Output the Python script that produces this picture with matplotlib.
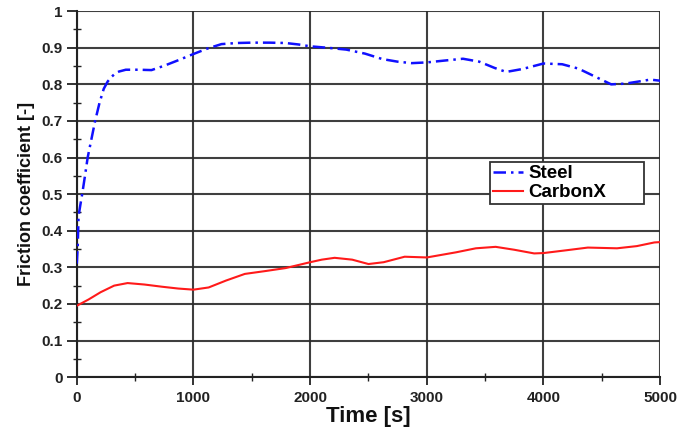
import matplotlib
matplotlib.use("Agg")
import matplotlib.pyplot as plt
from matplotlib.ticker import MultipleLocator

plt.rcParams['font.family'] = ['Liberation Sans', 'DejaVu Sans']

steel_t = [0, 8, 15, 30, 46, 70, 93, 125, 157, 195, 231, 265, 296, 330, 361, 420, 530, 640, 750,
           870, 1000, 1120, 1240, 1370, 1500, 1650, 1790, 1900, 2000, 2150, 2310, 2470, 2620,
           2750, 2870, 3000, 3150, 3310, 3450, 3580, 3680, 3820, 4000, 4160, 4300, 4450, 4580,
           4700, 4820, 4915, 5000]
steel_mu = [0.31, 0.36, 0.44, 0.47, 0.50, 0.55, 0.60, 0.65, 0.70, 0.75, 0.788, 0.808, 0.82, 0.83,
            0.835, 0.840, 0.840, 0.839, 0.851, 0.866, 0.883, 0.898, 0.910, 0.913, 0.914, 0.914,
            0.913, 0.909, 0.904, 0.900, 0.895, 0.884, 0.869, 0.862, 0.858, 0.860, 0.865, 0.870,
            0.862, 0.845, 0.834, 0.842, 0.857, 0.855, 0.843, 0.820, 0.800, 0.802, 0.808, 0.813,
            0.810]

carbon_t = [0, 100, 204, 320, 435, 580, 730, 870, 1000, 1130, 1280, 1440, 1620, 1790, 2000,
            2100, 2210, 2360, 2500, 2630, 2810, 3000, 3250, 3420, 3590, 3750, 3920, 4000,
            4180, 4380, 4630, 4800, 4950, 5000]
carbon_mu = [0.195, 0.212, 0.232, 0.250, 0.257, 0.253, 0.247, 0.242, 0.239, 0.245, 0.264, 0.282,
             0.290, 0.298, 0.314, 0.321, 0.326, 0.321, 0.309, 0.314, 0.329, 0.327, 0.341, 0.352,
             0.356, 0.348, 0.338, 0.339, 0.346, 0.354, 0.352, 0.358, 0.368, 0.369]

fig = plt.figure(figsize=(6.92, 4.3), dpi=100)
ax = fig.add_axes([0.111, 0.123, 0.843, 0.851])

ax.plot(steel_t, steel_mu, color='#1010ff', lw=1.8, dashes=(5, 2, 1, 2), label='Steel', zorder=3)
ax.plot(carbon_t, carbon_mu, color='#ff1a1a', lw=1.5, label='CarbonX', zorder=3)

ax.set_xlim(0, 5000)
ax.set_ylim(0, 1)
ax.xaxis.set_major_locator(MultipleLocator(1000))
ax.xaxis.set_minor_locator(MultipleLocator(500))
ax.yaxis.set_major_locator(MultipleLocator(0.1))
ax.yaxis.set_minor_locator(MultipleLocator(0.05))
ax.set_yticks([i / 10 for i in range(11)])
ax.set_yticklabels(['0', '0.1', '0.2', '0.3', '0.4', '0.5', '0.6', '0.7', '0.8', '0.9', '1'])

ax.grid(True, which='major', color='#2a2a2a', lw=1.5, alpha=0.9, zorder=1)
for s in ['top', 'right']:
    ax.spines[s].set_visible(False)
for s in ['left', 'bottom']:
    ax.spines[s].set_color('#222222')
    ax.spines[s].set_linewidth(1.5)

ax.tick_params(axis='y', which='major', direction='out', length=7, width=1.3, color='#222222',
               labelsize=11, labelcolor='#222222', pad=3)
ax.tick_params(axis='y', which='minor', direction='inout', length=6, width=1.0, color='#222222')
ax.tick_params(axis='x', which='major', direction='out', length=6, width=1.3, color='#222222',
               labelsize=11, labelcolor='#222222', pad=4)
ax.tick_params(axis='x', which='minor', direction='inout', length=6, width=1.0, color='#222222')
for lbl in ax.get_yticklabels():
    lbl.set_fontweight('bold')
for lbl in ax.get_xticklabels():
    lbl.set_fontweight('bold')
ax.get_xticklabels()[0].set_color('#777777')
ax.get_xticklabels()[0].set_fontweight('normal')

ax.set_xlabel('Time [s]', fontsize=16, fontweight='bold', color='#111111', labelpad=1)
ax.set_ylabel('Friction coefficient [-]', fontsize=13, fontweight='bold', color='#111111', labelpad=5)

leg = ax.legend(loc='upper left', bbox_to_anchor=(0.708, 0.587, 0.264, 0.0), mode='expand',
                frameon=True, fancybox=False,
                edgecolor='#333333', framealpha=1, prop={'weight': 'bold', 'size': 13.5},
                handlelength=1.6, handletextpad=0.3, borderpad=0.15, labelspacing=0.1,
                borderaxespad=0)
leg.get_frame().set_linewidth(1.3)

fig.savefig('out.png', dpi=100)
